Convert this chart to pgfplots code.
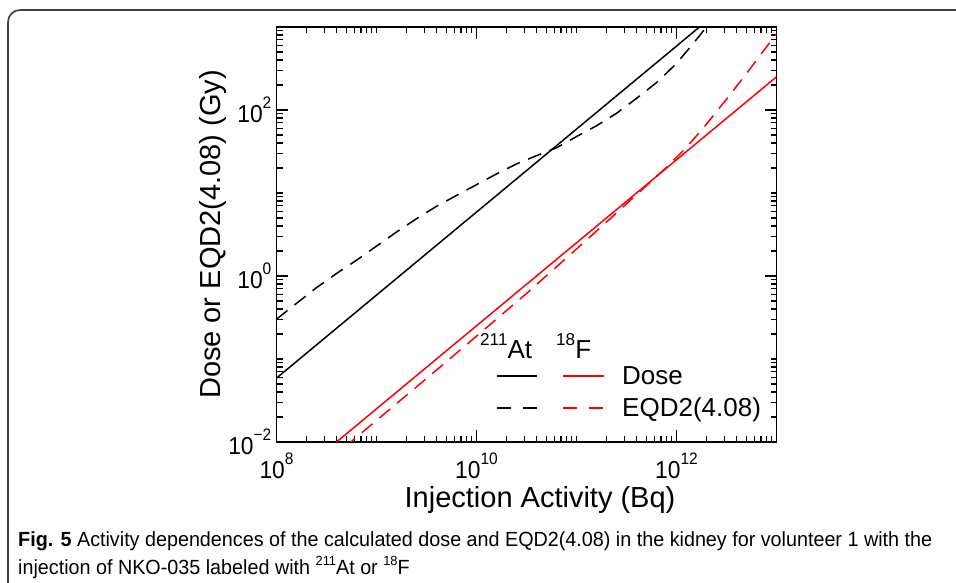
\documentclass[border=0pt]{standalone}
\usepackage{fontspec}
\setmainfont{Liberation Sans}
\newfontfamily\capfont{Liberation Sans}
\usepackage{pgfplots}
\pgfplotsset{compat=1.18}
\makeatletter
% raised, smaller text for exponents and isotope numbers
\newcommand\up[3][.22]{\raisebox{#1em}{\fontsize{\fpeval{#2*\f@size}}{0pt}\selectfont #3}}
\makeatother
\newcommand\fs[1]{\fontsize{#1}{#1}\selectfont}
\newcommand\ex[1]{\scalebox{.93}[1]{\fs{24.5}10\up[.55]{.68}{#1}}}
\newlength\capw
\newcommand\capone{\capfont\fs{20.5}\textbf{Fig. 5} Activity dependences of the calculated dose and EQD2(4.08) in the kidney for volunteer 1 with the}

\pgfplotstableread{
x y
1e8 0.302
1.585e8 0.468
2.512e8 0.724
3.981e8 1.072
6.310e8 1.549
1e9 2.291
1.585e9 3.388
2.512e9 4.898
3.981e9 6.918
6.310e9 9.333
1e10 12.59
1.585e10 16.98
2.512e10 22.39
3.981e10 28.18
6.310e10 35.08
1e11 47.86
1.585e11 64.57
2.512e11 91.20
3.981e11 138.0
6.310e11 213.8
1e12 363.1
1.585e12 707.9
1.995e12 1000
2.2e12 1300
}\atEQD

\pgfplotstableread{
x y
3.162e8 0.00569
1e9 0.01820
3.162e9 0.0582
1e10 0.1884
3.162e10 0.6166
1e11 2.113
1.995e11 4.467
3.981e11 9.55
7.943e11 20.42
1.259e12 35.48
1.995e12 67.61
3.162e12 134.9
5.012e12 275.4
7.079e12 478.6
1e13 831.8
}\fEQD

\begin{document}%
\settowidth\capw{\capone}%
\edef\capsc{\fpeval{914pt/\capw}}%
\begin{tikzpicture}[x=1pt,y=1pt]
% journal figure frame
\draw[line width=1.6pt, black!75, rounded corners=12pt] (8,-20) -- (8,573) -- (980,573);

\begin{axis}[
  at={(276.5pt,141pt)}, anchor=south west,
  scale only axis, width=500pt, height=415pt,
  xmode=log, ymode=log,
  xmin=1e8, xmax=1e13, ymin=1e-2, ymax=1e3,
  axis line style={line width=1.6pt},
  tick style={line width=1.1pt, black},
  tick align=inside,
  major tick length=12pt, minor tick length=6pt,
  xtick={1e8,1e10,1e12}, xticklabels={,,},
  ytick={1e-2,1,1e2}, yticklabels={,,},
  minor xtick={2e8,3e8,4e8,5e8,6e8,7e8,8e8,9e8,1e9,2e9,3e9,4e9,5e9,6e9,7e9,8e9,9e9,
    2e10,3e10,4e10,5e10,6e10,7e10,8e10,9e10,1e11,2e11,3e11,4e11,5e11,6e11,7e11,8e11,9e11,
    2e12,3e12,4e12,5e12,6e12,7e12,8e12,9e12},
  minor ytick={0.02,0.03,0.04,0.05,0.06,0.07,0.08,0.09,0.1,0.2,0.3,0.4,0.5,0.6,0.7,0.8,0.9,
    2,3,4,5,6,7,8,9,10,20,30,40,50,60,70,80,90,200,300,400,500,600,700,800,900},
  xlabel={Injection Activity (Bq)},
  ylabel={Dose or EQD2(4.08) (Gy)},
  label style={font=\fs{29}},
  xlabel style={at={(axis description cs:0.527,-0.14)}, anchor=center},
  ylabel style={at={(axis description cs:-0.127,0.5)}, anchor=center},
  every axis plot/.append style={line width=1.5pt},
]
% 211At
\addplot[black] coordinates {(1e8,0.05888) (2e12,1178)};
\addplot[black, dash pattern=on 14pt off 9pt] table[x=x,y=y] {\atEQD};
% 18F
\addplot[red] coordinates {(1e8,0.002512) (1e13,251.2)};
\addplot[red, dash pattern=on 14pt off 9pt] table[x=x,y=y] {\fEQD};
\end{axis}

% tick labels (decades 1e8, 1e10, 1e12 at x = 276.5 + 100 per decade)
\foreach \xx/\e in {276.5/8, 476.5/10, 676.5/12}
  \node[anchor=north, inner sep=0] at (\xx,130) {\ex{\e}};
\foreach \yy/\e in {141/−2, 307/0, 473/2}
  \node[anchor=east, inner sep=0] at (271.5,\yy) {\ex{\e}};

% legend
\begin{scope}[font=\fs{26}]
\node[anchor=base west, inner sep=0] at (480,224) {\up[.5]{.66}{211}At};
\node[anchor=base west, inner sep=0] at (556,224) {\up[.5]{.66}{18}F};
\draw[black, line width=1.5pt] (497,207) -- (537,207);
\draw[red, line width=1.5pt] (563,207) -- (604,207);
\draw[black, line width=1.5pt, dash pattern=on 14pt off 12pt] (497,175) -- (537,175);
\draw[red, line width=1.5pt, dash pattern=on 14pt off 12pt] (563,175) -- (604,175);
\node[anchor=base west, inner sep=0] at (622,198) {Dose};
\node[anchor=base west, inner sep=0] at (622,166) {EQD2(4.08)};
\end{scope}

% caption, squeezed to the width of the reference line
\node[anchor=base west, inner sep=0] at (18,36) {\scalebox{\capsc}[1]{\capone}};
\node[anchor=base west, inner sep=0] at (18,8) {\scalebox{\capsc}[1]{\capfont\fs{20.5}injection of NKO-035 labeled with \up[.45]{.65}{211}At or \up[.45]{.65}{18}F}};

\pgfresetboundingbox
\useasboundingbox (0,0) rectangle (956,583);
\end{tikzpicture}%
\end{document}
